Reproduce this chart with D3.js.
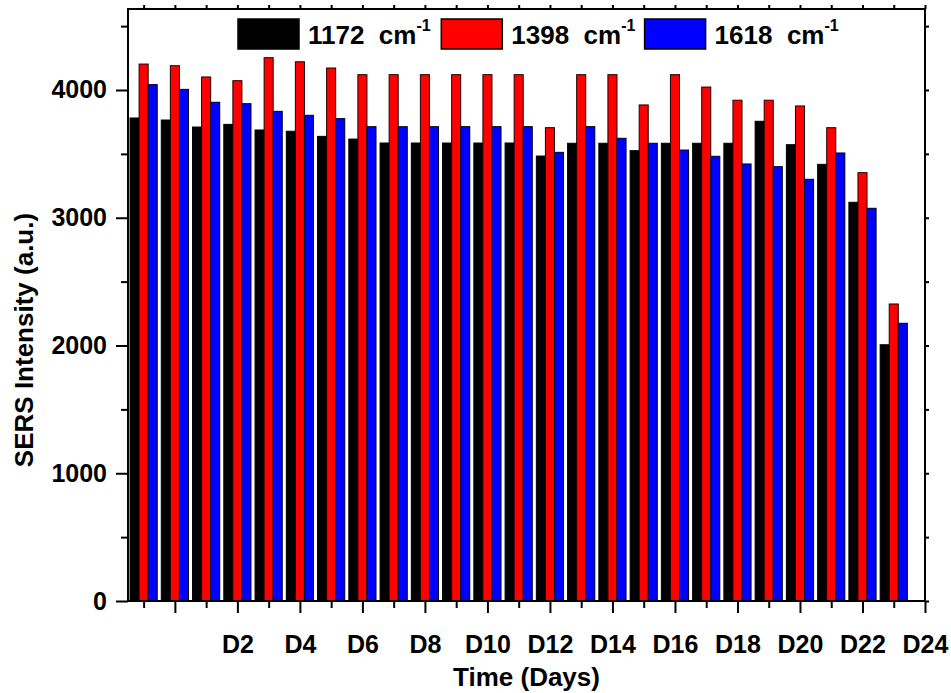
<!DOCTYPE html>
<html>
<head>
<meta charset="utf-8">
<script src="https://cdn.jsdelivr.net/npm/d3@7"></script>
<style>
  html, body { margin: 0; padding: 0; background: #fff; }
  text { font-family: "Liberation Sans", Arial, sans-serif; font-weight: bold; fill: #000; }
</style>
</head>
<body>
<svg id="chart" width="951" height="693"></svg>
<script>
// ---- data ----
const days = [-1, 0, 1, 2, 3, 4, 5, 6, 7, 8, 9, 10, 11, 12, 13, 14, 15, 16, 17, 18, 19, 20, 21, 22, 23];
const seriesNames = ["1172", "1398", "1618"];
const s1172 = [3781, 3765, 3710, 3731, 3687, 3677, 3637, 3616, 3585, 3585, 3585, 3585, 3585, 3483, 3583, 3583, 3525, 3583, 3583, 3583, 3755, 3572, 3418, 3121, 2006];
const s1398 = [4203, 4190, 4102, 4073, 4253, 4221, 4172, 4120, 4120, 4120, 4120, 4120, 4120, 3705, 4120, 4120, 3883, 4120, 4023, 3920, 3920, 3875, 3705, 3353, 2325];
const s1618 = [4042, 4005, 3904, 3893, 3833, 3802, 3776, 3713, 3713, 3713, 3713, 3713, 3713, 3512, 3713, 3622, 3583, 3530, 3481, 3421, 3400, 3301, 3507, 3074, 2174];
const xMajorTicks = [0, 2, 4, 6, 8, 10, 12, 14, 16, 18, 20, 22, 24];
const xMinorTicks = [-1, 1, 3, 5, 7, 9, 11, 13, 15, 17, 19, 21, 23];
const yMajorTicks = [0, 1000, 2000, 3000, 4000];
const yMinorTicks = [500, 1500, 2500, 3500, 4500];
const xTitle = "Time (Days)";
const yTitle = "SERS Intensity (a.u.)";

const allSeries = [s1172, s1398, s1618];
const fills = ["#000000", "#ff0000", "#0000ff"];
const strokes = ["#000000", "#200000", "#000020"];

const svg = d3.select("#chart");
const L = 128, R = 925, T = 9, B = 601;
const x = d3.scaleLinear().domain([-1.5, 24]).range([L, R]);
const y = d3.scaleLinear().domain([0, 4634]).range([B, T]);
const barW = 0.29;

// bars
allSeries.forEach((vals, k) => {
  svg.append("g").selectAll("rect").data(days).join("rect")
    .attr("x", (d) => x(d + (k - 1.5) * barW))
    .attr("width", (d) => x(d + (k - 0.5) * barW) - x(d + (k - 1.5) * barW))
    .attr("y", (d, i) => y(vals[i]))
    .attr("height", (d, i) => y(0) - y(vals[i]))
    .attr("fill", fills[k])
    .attr("stroke", strokes[k])
    .attr("stroke-width", 1);
});

function styleAxis(g) {
  g.select(".domain").remove();
  g.selectAll(".tick line").attr("stroke", "#000").attr("stroke-width", 2);
  g.selectAll(".tick text").style("font-size", "25px").attr("fill", "#000");
}

// bottom axis
svg.append("g").attr("transform", `translate(0,${B})`)
  .call(d3.axisBottom(x).tickValues(xMajorTicks).tickSize(12).tickPadding(22)
    .tickFormat((d) => d === 0 ? "" : "D" + d))
  .call(styleAxis);
svg.append("g").attr("transform", `translate(0,${B})`)
  .call(d3.axisBottom(x).tickValues(xMinorTicks).tickSize(7).tickFormat(""))
  .call(styleAxis);
// top axis
svg.append("g").attr("transform", `translate(0,${T})`)
  .call(d3.axisTop(x).tickValues(xMajorTicks.concat(xMinorTicks)).tickSize(4).tickFormat(""))
  .call(styleAxis);
// left axis
svg.append("g").attr("transform", `translate(${L},0)`)
  .call(d3.axisLeft(y).tickValues(yMajorTicks).tickSize(12).tickPadding(9).tickFormat(d3.format("d")))
  .call(styleAxis);
svg.append("g").attr("transform", `translate(${L},0)`)
  .call(d3.axisLeft(y).tickValues(yMinorTicks).tickSize(7).tickFormat(""))
  .call(styleAxis);
// right axis
svg.append("g").attr("transform", `translate(${R},0)`)
  .call(d3.axisRight(y).tickValues(yMajorTicks.concat(yMinorTicks)).tickSize(4).tickFormat(""))
  .call(styleAxis);

// frame
svg.append("rect").attr("x", L).attr("y", T).attr("width", R - L).attr("height", B - T)
  .attr("fill", "none").attr("stroke", "#000").attr("stroke-width", 2);

// axis titles
svg.append("text").attr("x", (L + R) / 2).attr("y", 686).attr("text-anchor", "middle")
  .style("font-size", "26px").text(xTitle);
svg.append("text").attr("transform", "translate(33,340) rotate(-90)").attr("text-anchor", "middle")
  .style("font-size", "26px").text(yTitle);

// legend
const legend = svg.append("g");
seriesNames.forEach((name, k) => {
  const lx = 238 + k * 203.3;
  legend.append("rect").attr("x", lx).attr("y", 19).attr("width", 61).attr("height", 30)
    .attr("fill", fills[k]).attr("stroke", "#000").attr("stroke-width", 1.5);
  const t = legend.append("text").attr("x", lx + 70).attr("y", 44)
    .style("font-size", "26px").style("white-space", "pre");
  t.append("tspan").text(name + "  cm");
  t.append("tspan").attr("dy", -13).style("font-size", "16px").text("-1");
});
</script>
</body>
</html>
